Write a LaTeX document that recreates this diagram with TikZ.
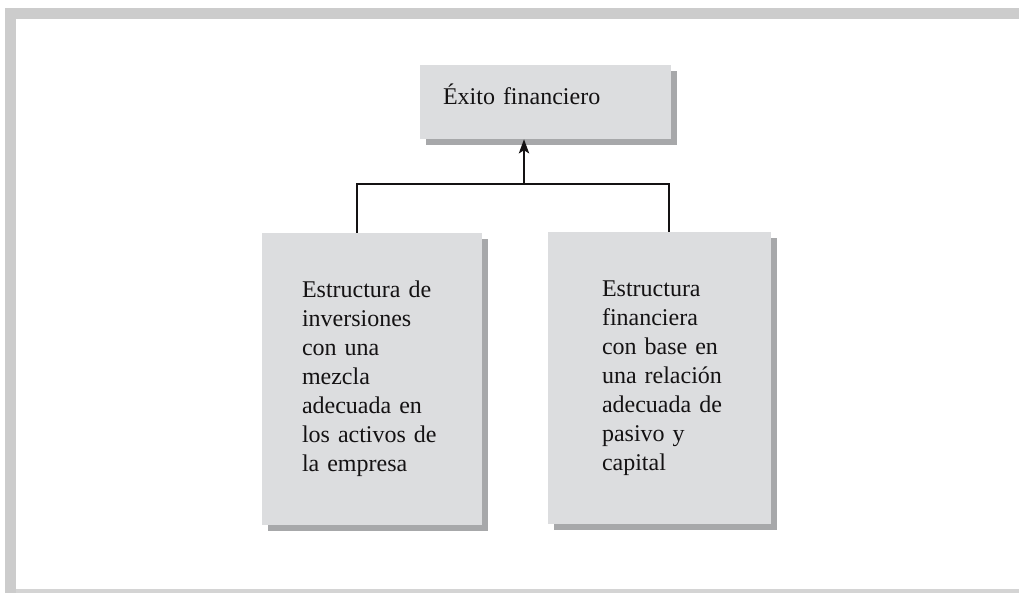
\documentclass[tikz,border=0pt]{standalone}
\usepackage{fontspec}
\setmainfont{Liberation Serif}
\usetikzlibrary{arrows.meta,shadows}
\definecolor{framegray}{HTML}{CCCCCC}
\definecolor{boxfill}{HTML}{DCDDDF}
\definecolor{shadowgray}{HTML}{A7A8AA}
\definecolor{inkc}{HTML}{141213}
\newcommand{\tline}[1]{\mbox{#1}}
\tikzset{
  card/.style={fill=boxfill, draw=none, text=inkc, align=left,
    font=\fontsize{24}{29}\selectfont, inner ysep=0pt,
    drop shadow={shadow xshift=6pt, shadow yshift=-6pt, fill=shadowgray, opacity=1}},
  link/.style={draw=inkc, line width=2.7pt},
  arr/.style={link, -{Stealth[length=14pt,width=10pt,inset=3pt]}}
}
\begin{document}
\begin{tikzpicture}[x=1pt,y=-1pt]
\useasboundingbox[fill=white] (0,0) rectangle (1019,593);
% frame
\fill[framegray] (5,8) rectangle (1019,19);
\fill[framegray] (5,8) rectangle (16,593);
\fill[framegray!85] (16,589) rectangle (1019,593);
% boxes
\node[card, minimum width=251pt, minimum height=74pt, text width=205pt, inner xsep=23pt,
  text height=20pt, text depth=14pt] (top) at (545.5,102) {Éxito financiero};
\node[card, minimum width=220pt, minimum height=292pt, text width=140pt, inner xsep=40pt] (left) at (372,379)
  {\tline{Estructura de}\\\tline{inversiones}\\\tline{con una}\\\tline{mezcla}\\\tline{adecuada en}\\\tline{los activos de}\\\tline{la empresa}};
\node[card, minimum width=223pt, minimum height=292pt, text width=115pt, inner xsep=54pt] (right) at (659.5,378)
  {\tline{Estructura}\\\tline{financiera}\\\tline{con base en}\\\tline{una relación}\\\tline{adecuada de}\\\tline{pasivo y}\\\tline{capital}};
% connectors
\coordinate (jl) at (357,184);
\coordinate (jr) at (669,184);
\coordinate (jm) at (524,184);
\draw[link] (jl |- left.north) -- (jl) -- (jr) -- (jr |- right.north);
\draw[arr] (jm) -- (jm |- top.south);
\end{tikzpicture}
\end{document}
